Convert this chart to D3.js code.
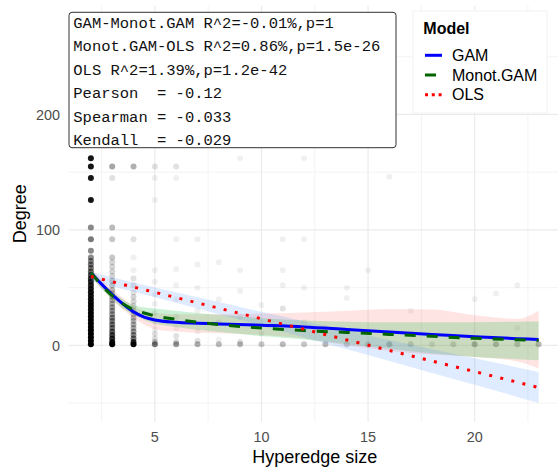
<!DOCTYPE html>
<html>
<head>
<meta charset="utf-8">
<script src="https://cdn.jsdelivr.net/npm/d3@7"></script>
<style>
  html, body { margin: 0; padding: 0; background: #fff; }
  svg { display: block; font-family: "Liberation Sans", Arial, sans-serif; }
</style>
</head>
<body>
<div id="chart"></div>
<script>
// scatter: [hyperedge size, degree, how many rows overlap there]
const pointRows = [
  [2,1,200],[2,4,150],[2,7,120],[2,10,100],[2,13,90],[2,16,80],[2,19,80],[2,22,70],[2,25,60],[2,28,60],
  [2,31,50],[2,34,50],[2,37,45],[2,40,45],[2,43,40],[2,46,40],[2,49,35],[2,52,30],[2,55,30],[2,58,25],
  [2,61,20],[2,64,15],[2,67,12],[2,70,12],[2,73,10],[2,76,10],[2,82,10],[2,92,12],[2,102,10],[2,126,40],
  [2,145,40],[2,155,40],[2,162,40],[2,185,20],[2,210,20],[2,240,20],[2,278,20],
  [3,1,80],[3,3,40],[3,6,25],[3,9,20],[3,12,15],[3,15,12],[3,18,12],[3,21,10],[3,24,10],[3,27,8],
  [3,30,8],[3,33,7],[3,36,6],[3,39,6],[3,42,6],[3,45,5],[3,48,5],[3,52,4],[3,56,4],[3,60,3],
  [3,64,3],[3,68,3],[3,72,3],[3,76,4],[3,92,4],[3,102,5],[3,145,2],[3,155,7],
  [4,1,60],[4,3,25],[4,6,12],[4,9,10],[4,12,8],[4,15,6],[4,18,6],[4,21,5],[4,24,5],[4,27,4],
  [4,30,4],[4,34,3],[4,38,3],[4,42,3],[4,46,2],[4,52,2],[4,58,2],[4,65,1],[4,76,1],[4,92,2],[4,155,6],
  [5,1,12],[5,3,4],[5,6,2],[5,10,2],[5,14,1],[5,20,1],[5,28,1],[5,36,1],[5,44,1],[5,55,1],[5,65,1],
  [5,126,1],[5,145,1],[5,155,2],
  [6,1,8],[6,3,3],[6,8,2],[6,15,1],[6,25,1],[6,40,1],[6,52,1],[6,66,1],[6,92,1],[6,145,1],[6,155,2],
  [7,1,6],[7,4,2],[7,12,1],[7,30,1],[7,50,1],[7,70,1],[7,92,1],
  [8,1,5],[8,5,1],[8,20,1],[8,40,1],[8,72,1],
  [9,1,5],[9,3,2],[9,25,1],[9,47,1],[9,65,1],[9,162,1],
  [10,1,4],[10,10,1],[10,35,1],
  [11,1,5],[11,32,2],[11,52,1],[11,65,1],[11,92,1],
  [12,1,4],[12,20,1],[12,50,1],[12,92,1],[12,162,1],
  [13,1,5],[13,15,1],
  [14,1,3],[14,41,1],[14,50,1],
  [15,1,3],[15,65,1],
  [16,1,5],[16,146,1],
  [17,1,3],[17,30,1],
  [18,1,2],
  [19,1,3],
  [20,1,6],[20,40,1],
  [21,1,5],[21,45,1],
  [22,1,4],[22,15,1],[22,52,1],
  [23,1,5]
];

// smooth fits (GAM and monotone GAM) with their bands
const fitX   = [2, 2.5, 3, 3.5, 4, 4.5, 5, 6, 7, 8, 10, 12, 14, 16, 18, 20, 22, 23];
const gamFit = [63, 53, 44, 36, 29, 24.5, 22, 20, 19.2, 18.6, 17.4, 16, 13.8, 11.6, 9.5, 7.4, 5.8, 5];
const gamLo  = [59, 49, 39.5, 31, 24, 18, 14, 12, 11, 10.5, 9, 6, 0, -5, -8, -10, -14, -20];
const gamHi  = [67, 57, 48.5, 41, 34, 30, 28, 27, 27, 27, 27.5, 28.5, 30, 31.5, 31, 26, 23, 30];
const monoFit = [63, 52, 43, 36, 31, 28, 25.5, 22.5, 20, 18, 15, 12.8, 11.2, 9.5, 7.8, 6.1, 4.8, 4.2];
const monoLo  = [60, 49, 40, 32, 26.5, 22, 19, 16, 13.5, 11.5, 8, 5, 1, -3, -7, -10, -12, -13];
const monoHi  = [66, 55, 46.5, 40, 35, 33, 32, 30, 28, 26.5, 23.5, 21.5, 20.5, 20, 20, 20, 20.5, 20.7];

// OLS line and its band
const olsX   = [2, 4, 6, 8, 10, 12, 14, 16, 18, 20, 22, 23];
const olsFit = [59.7, 50.5, 41.4, 32.2, 23.0, 13.9, 4.7, -4.4, -13.6, -22.7, -31.9, -36.5];
const olsLo  = [55.7, 46.5, 36.8, 26.9, 17.0, 6.9, -3.3, -13.5, -23.9, -34.2, -44.7, -50.0];
const olsHi  = [63.7, 54.5, 46.0, 37.5, 29.0, 20.9, 12.7, 4.7, -3.3, -11.2, -19.1, -23.0];

const xTicks = [5, 10, 15, 20];
const yTicks = [0, 100, 200];
const modelNames = ["GAM", "Monot.GAM", "OLS"];
const statLines = [
  "GAM-Monot.GAM R^2=-0.01%,p=1",
  "Monot.GAM-OLS R^2=0.86%,p=1.5e-26",
  "OLS R^2=1.39%,p=1.2e-42",
  "Pearson  = -0.12",
  "Spearman = -0.033",
  "Kendall  = -0.029"
];

const W = 558, H = 471;
const panel = { left: 68.5, right: 561, top: 5.5, bottom: 422 };

const svg = d3.select('#chart')
  .append('svg')
  .attr('width', W)
  .attr('height', H);

// ggplot-like 5% expansion of the data range
const expand = ([a, b]) => [a - (b - a) * 0.05, b + (b - a) * 0.05];
const xExt = d3.extent(pointRows, d => d[0]);
const yExt = [d3.min(olsLo), d3.max(pointRows, d => d[1])];

const x = d3.scaleLinear().domain(expand(xExt)).range([panel.left, panel.right]);
const y = d3.scaleLinear().domain(expand(yExt)).range([panel.bottom, panel.top]);

// grid
const grid = svg.append('g');
const xMinor = [2.5, 7.5, 12.5, 17.5, 22.5];
const yMinor = [-50, 50, 150, 250];
grid.selectAll('.vmin').data(xMinor).join('line')
  .attr('x1', d => x(d)).attr('x2', d => x(d))
  .attr('y1', panel.top).attr('y2', panel.bottom)
  .attr('stroke', '#f0f0f0').attr('stroke-width', 0.8);
grid.selectAll('.hmin').data(yMinor).join('line')
  .attr('y1', d => y(d)).attr('y2', d => y(d))
  .attr('x1', panel.left).attr('x2', panel.right)
  .attr('stroke', '#f0f0f0').attr('stroke-width', 0.8);
grid.selectAll('.vmaj').data(xTicks).join('line')
  .attr('x1', d => x(d)).attr('x2', d => x(d))
  .attr('y1', panel.top).attr('y2', panel.bottom)
  .attr('stroke', '#ebebeb').attr('stroke-width', 1.2);
grid.selectAll('.hmaj').data(yTicks).join('line')
  .attr('y1', d => y(d)).attr('y2', d => y(d))
  .attr('x1', panel.left).attr('x2', panel.right)
  .attr('stroke', '#ebebeb').attr('stroke-width', 1.2);

// points, alpha stacks with the number of overlapping rows
svg.append('g')
  .selectAll('circle')
  .data(pointRows)
  .join('circle')
  .attr('cx', d => x(d[0]))
  .attr('cy', d => y(d[1]))
  .attr('r', 3)
  .attr('fill', '#000')
  .attr('fill-opacity', d => 1 - Math.pow(0.94, d[2]));

// bands
const band = (xs, lo, hi) => d3.area()
  .x((d, i) => x(xs[i]))
  .y0((d, i) => y(lo[i]))
  .y1((d, i) => y(hi[i]))
  .curve(d3.curveMonotoneX)(xs);

svg.append('path').attr('d', band(fitX, gamLo, gamHi)).attr('fill', '#F8766D').attr('fill-opacity', 0.2);
svg.append('path').attr('d', band(fitX, monoLo, monoHi)).attr('fill', '#00BA38').attr('fill-opacity', 0.2);
svg.append('path').attr('d', band(olsX, olsLo, olsHi)).attr('fill', '#619CFF').attr('fill-opacity', 0.2);

// lines
const fitLine = (xs, ys, curve) => d3.line()
  .x((d, i) => x(xs[i]))
  .y((d, i) => y(ys[i]))
  .curve(curve)(xs);

svg.append('path')
  .attr('d', fitLine(fitX, gamFit, d3.curveMonotoneX))
  .attr('fill', 'none').attr('stroke', '#0000ff').attr('stroke-width', 3);
svg.append('path')
  .attr('d', fitLine(fitX, monoFit, d3.curveMonotoneX))
  .attr('fill', 'none').attr('stroke', '#006400').attr('stroke-width', 3)
  .attr('stroke-dasharray', '11,11');
svg.append('path')
  .attr('d', fitLine(olsX, olsFit, d3.curveLinear))
  .attr('fill', 'none').attr('stroke', '#ff0000').attr('stroke-width', 3)
  .attr('stroke-dasharray', '3,8.4');

// axes: labels only
svg.append('g').selectAll('text').data(xTicks).join('text')
  .attr('x', d => x(d)).attr('y', 442.3)
  .attr('text-anchor', 'middle')
  .attr('font-size', 14.4).attr('fill', '#4d4d4d')
  .text(d => d);
svg.append('g').selectAll('text').data(yTicks).join('text')
  .attr('x', 60).attr('y', d => y(d) + 5.2)
  .attr('text-anchor', 'end')
  .attr('font-size', 14.4).attr('fill', '#4d4d4d')
  .text(d => d);

svg.append('text')
  .attr('x', (panel.left + panel.right) / 2)
  .attr('y', 462.7)
  .attr('text-anchor', 'middle')
  .attr('font-size', 18)
  .text('Hyperedge size');

svg.append('text')
  .attr('transform', `translate(25.6, ${(panel.top + panel.bottom) / 2}) rotate(-90)`)
  .attr('text-anchor', 'middle')
  .attr('font-size', 18)
  .text('Degree');

// stats box
const box = svg.append('g');
box.append('rect')
  .attr('x', 69).attr('y', 12.3)
  .attr('width', 327).attr('height', 135.4)
  .attr('rx', 3)
  .attr('fill', '#fff').attr('stroke', '#333').attr('stroke-width', 1);
box.selectAll('text').data(statLines).join('text')
  .attr('x', 73.3)
  .attr('y', (d, i) => 27.7 + i * 23.46)
  .attr('font-family', '"Liberation Mono", "Courier New", monospace')
  .attr('font-size', 15.5)
  .attr('fill', '#111')
  .style('white-space', 'pre')
  .text(d => d);

// legend
const legend = svg.append('g');
legend.append('rect')
  .attr('x', 413).attr('y', 11)
  .attr('width', 134).attr('height', 102)
  .attr('fill', '#fff').attr('stroke', '#f2f2f2');
legend.append('text')
  .attr('x', 423.3).attr('y', 34.3)
  .attr('font-size', 16).attr('font-weight', 'bold')
  .text('Model');

const keyStyle = [
  { color: '#0000ff', dash: null },
  { color: '#006400', dash: '11,11' },
  { color: '#ff0000', dash: '3,3.8' }
];
const keyY = [55.3, 75, 94.7];
modelNames.forEach((m, i) => {
  legend.append('line')
    .attr('x1', 425).attr('x2', 442)
    .attr('y1', keyY[i]).attr('y2', keyY[i])
    .attr('stroke', keyStyle[i].color).attr('stroke-width', 3)
    .attr('stroke-dasharray', keyStyle[i].dash);
  legend.append('text')
    .attr('x', 452).attr('y', keyY[i] + 5.7)
    .attr('font-size', 16)
    .text(m);
});
</script>
</body>
</html>
